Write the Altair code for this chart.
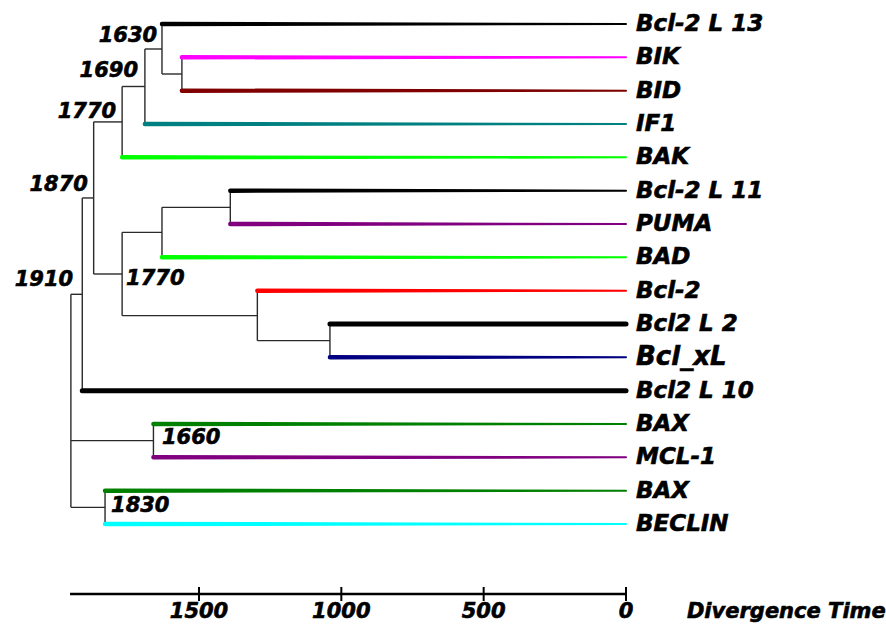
import altair as alt
import pandas as pd

# ---------------- data ----------------
LEAF_NAMES = ["Bcl-2 L 13", "BIK", "BID", "IF1", "BAK", "Bcl-2 L 11", "PUMA", "BAD",
              "Bcl-2", "Bcl2 L 2", "Bcl_xL", "Bcl2 L 10", "BAX", "MCL-1", "BAX", "BECLIN"]

NODE_IDS = ["A", "B", "C", "D", "E", "F", "G", "H", "I", "J", "K", "M", "N", "R"]
NODE_TIMES = [1560, 1630, 1690, 1770, 1390, 1630, 1040, 1295, 1770, 1870, 1910, 1660, 1830, 1950]
NODE_CHILDREN = [["L1", "L2"], ["L0", "A"], ["B", "L3"], ["C", "L4"], ["L5", "L6"], ["E", "L7"],
                 ["L9", "L10"], ["L8", "G"], ["F", "H"], ["D", "I"], ["J", "L11"],
                 ["L12", "L13"], ["L14", "L15"], ["K", "M", "N"]]

NODE_LABELS = ["1630", "1690", "1770", "1870", "1910", "1770", "1660", "1830"]
NODE_LABEL_TIME = [1647, 1714, 1791, 1890, 1942, 1756, 1630, 1809]
NODE_LABEL_ROW = [0.36, 1.41, 2.64, 4.83, 7.68, 7.65, 12.42, 14.46]

AXIS_TICKS = [0, 500, 1000, 1500]
AXIS_START = 1953
AXIS_TITLE = "Divergence Time"

# ---------------- style ----------------
LEAF_COLORS = ["#000000", "#ff00ff", "#800000", "#008080", "#00ff00", "#000000", "#800080",
               "#00ff00", "#ff0000", "#000000", "#000080", "#000000", "#008000", "#800080",
               "#008000", "#00ffff"]
THICK_LEAVES = {9, 11}
LEAF_FONT_SIZE = 23
LEAF_FONT_OVERRIDE = {10: 26}
LABEL_RIGHT_ALIGNED = 5  # first five node labels sit left of their node
FONT = "DejaVu Sans"
TEXT_STYLE = dict(font=FONT, fontWeight="bold", fontStyle="italic", color="black",
                  stroke="black", strokeWidth=0.6, baseline="middle")
AXIS_ROW = 17.1
AXIS_LABEL_ROW = 17.64

# ---------------- build tree geometry ----------------
times = {f"L{i}": 0 for i in range(len(LEAF_NAMES))}
rows = {f"L{i}": float(i) for i in range(len(LEAF_NAMES))}
children = dict(zip(NODE_IDS, NODE_CHILDREN))
times.update(dict(zip(NODE_IDS, NODE_TIMES)))


def row_of(n):
    if n in rows:
        return rows[n]
    ch = [row_of(c) for c in children[n]]
    rows[n] = (min(ch) + max(ch)) / 2
    return rows[n]


for n in NODE_IDS:
    row_of(n)

seg = []
trail = []
for n in NODE_IDS:
    ch_rows = [rows[c] for c in children[n]]
    seg.append({"t": times[n], "t2": times[n], "r": min(ch_rows), "r2": max(ch_rows)})
    for c in children[n]:
        if c.startswith("L"):
            i = int(c[1:])
            w0, w1 = (5.0, 5.0) if i in THICK_LEAVES else (4.5, 2.0)
            trail.append({"id": c, "t": times[n], "r": rows[c], "w": w0})
            trail.append({"id": c, "t": 0, "r": rows[c], "w": w1})
        else:
            seg.append({"t": times[n], "t2": times[c], "r": rows[c], "r2": rows[c]})

seg_df = pd.DataFrame(seg)
trail_df = pd.DataFrame(trail)
leaf_df = pd.DataFrame({"t": [0] * len(LEAF_NAMES), "r": list(range(len(LEAF_NAMES))),
                        "name": LEAF_NAMES,
                        "fs": [LEAF_FONT_OVERRIDE.get(i, LEAF_FONT_SIZE) for i in range(len(LEAF_NAMES))]})
lab_df = pd.DataFrame({"t": NODE_LABEL_TIME, "r": NODE_LABEL_ROW, "txt": NODE_LABELS})
tick_df = pd.DataFrame({"t": AXIS_TICKS, "txt": [str(v) for v in AXIS_TICKS]})

xs = alt.Scale(domain=[-913.3, 2199.0], reverse=True, nice=False, zero=False)
ys = alt.Scale(domain=[-0.72, 18.06], reverse=True, nice=False, zero=False)


def X(f="t"):
    return alt.X(f"{f}:Q", scale=xs, axis=None)


def Y(f="r"):
    return alt.Y(f"{f}:Q", scale=ys, axis=None)


connectors = alt.Chart(seg_df).mark_rule(color="#2a2a2a", strokeWidth=1.4).encode(
    x=X(), x2="t2:Q", y=Y(), y2="r2:Q")

leaves = alt.Chart(trail_df).mark_trail().encode(
    x=X(), y=Y(), detail="id:N",
    size=alt.Size("w:Q", scale=None, legend=None),
    color=alt.Color("id:N", scale=alt.Scale(domain=[f"L{i}" for i in range(len(LEAF_NAMES))],
                                            range=LEAF_COLORS), legend=None))

leaf_text = alt.Chart(leaf_df).mark_text(align="left", dx=10, **TEXT_STYLE).encode(
    x=X(), y=Y(), text="name:N", size=alt.Size("fs:Q", scale=None, legend=None))

lab_right = alt.Chart(lab_df.iloc[:LABEL_RIGHT_ALIGNED]).mark_text(
    align="right", fontSize=21, **TEXT_STYLE).encode(x=X(), y=Y(), text="txt:N")

lab_left = alt.Chart(lab_df.iloc[LABEL_RIGHT_ALIGNED:]).mark_text(
    align="left", fontSize=21, **TEXT_STYLE).encode(x=X(), y=Y(), text="txt:N")

axis_line = alt.Chart(pd.DataFrame({"t": [AXIS_START], "t2": [0], "r": [AXIS_ROW]})).mark_rule(
    color="black", strokeWidth=2.6).encode(x=X(), x2="t2:Q", y=Y())

axis_ticks = alt.Chart(tick_df.assign(r=AXIS_ROW - 0.21, r2=AXIS_ROW + 0.21)).mark_rule(
    color="black", strokeWidth=2).encode(x=X(), y=Y(), y2="r2:Q")

axis_labels = alt.Chart(tick_df.assign(r=AXIS_LABEL_ROW)).mark_text(
    align="center", fontSize=21, **TEXT_STYLE).encode(x=X(), y=Y(), text="txt:N")

axis_title = alt.Chart(pd.DataFrame({"t": [-214], "r": [AXIS_LABEL_ROW], "txt": [AXIS_TITLE]})).mark_text(
    align="left", fontSize=21, **TEXT_STYLE).encode(x=X(), y=Y(), text="txt:N")

chart = alt.layer(connectors, leaves, leaf_text, lab_right, lab_left,
                  axis_line, axis_ticks, axis_labels, axis_title).properties(
    width=886, height=626, autosize=alt.AutoSizeParams(type="none"), padding=0,
    background="white"
).configure_view(stroke=None)

chart.save("out.html", embed_options={"renderer": "svg", "actions": False})
